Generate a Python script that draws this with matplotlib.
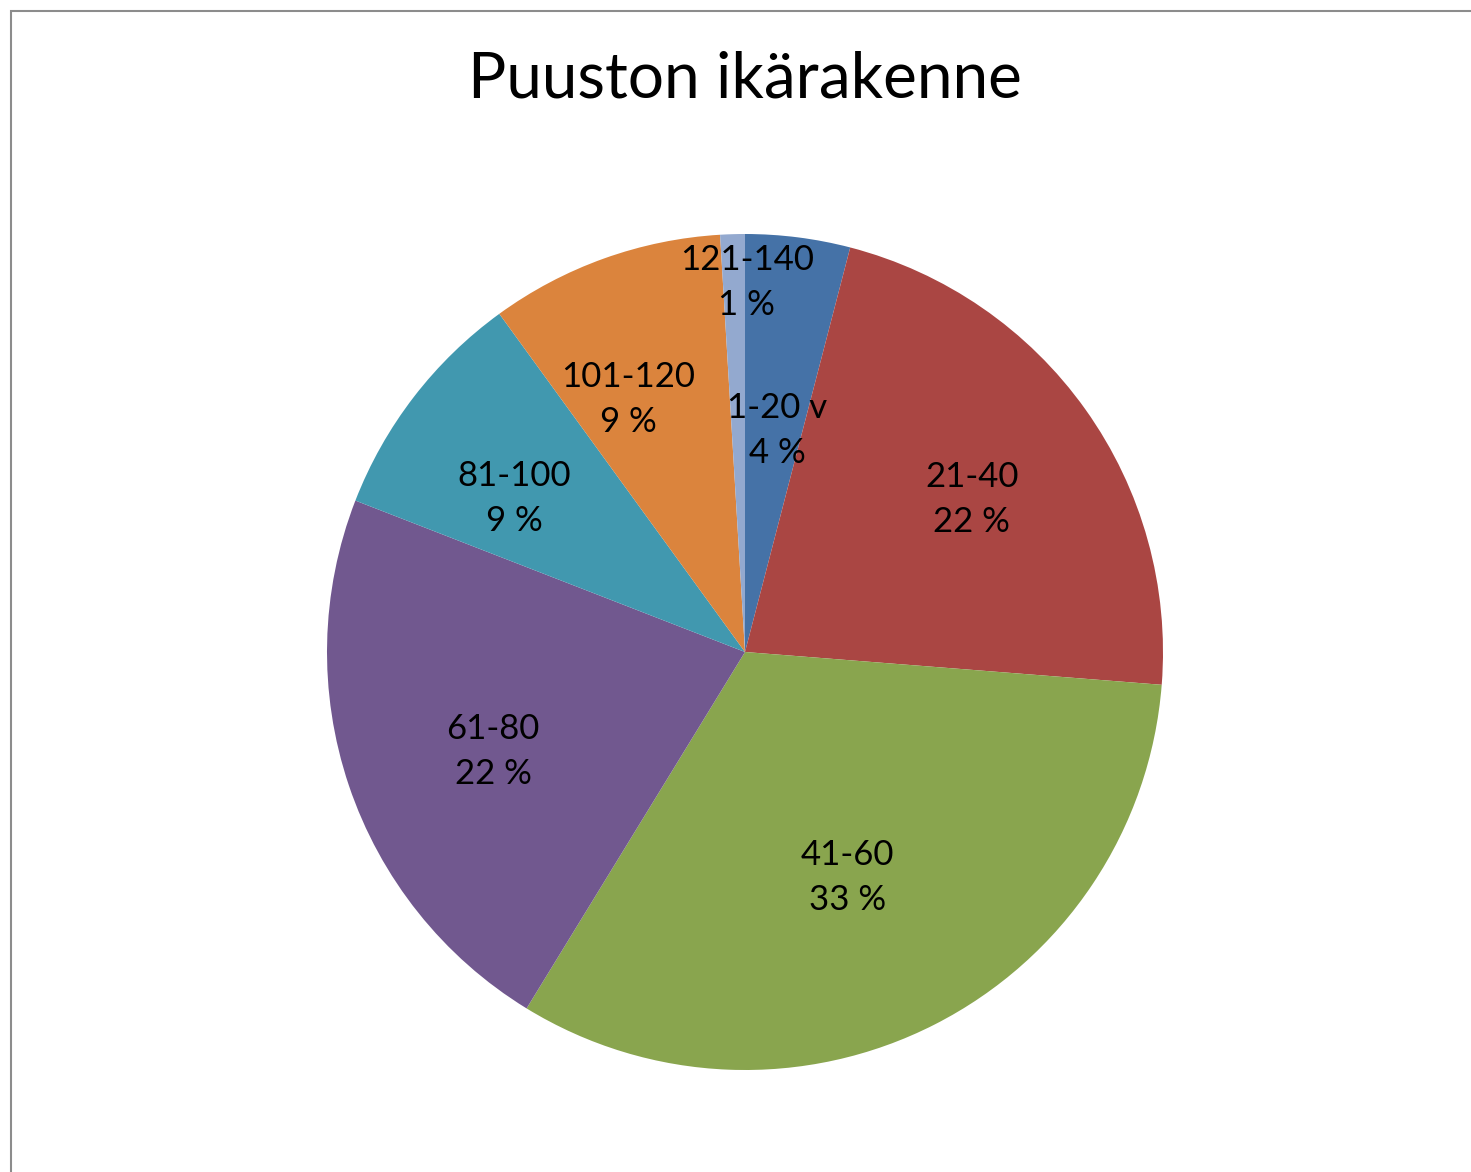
import matplotlib
matplotlib.use("Agg")
import matplotlib.pyplot as plt
from matplotlib.patches import Rectangle
import numpy as np

# age classes and shares (%)
categories = ["1-20 v", "21-40", "41-60", "61-80", "81-100", "101-120", "121-140"]
shares = [4.05, 22.2, 32.5, 22.15, 9.1, 9.05, 0.95]
colors = ["#4572A7", "#AA4643", "#89A54E", "#71588F", "#4198AF", "#DB843D", "#93A9CF"]

# label placement: distance from centre (fraction of radius) and clockwise nudge (deg)
label_radius = [0.536, 0.653, 0.593, 0.648, 0.663, 0.665, 0.883]
label_nudge = [0.9, 1.6, 2.5, -2.9, -4.1, -5.2, 2.0]

W, H = 1471, 1172
fig = plt.figure(figsize=(W / 100, H / 100), dpi=100)
fig.patch.set_facecolor("white")

# chart area border (gray, runs off the right/bottom edge)
fig.add_artist(Rectangle((11 / W, -0.01), 1.0, 1 - 11 / H + 0.01,
                         transform=fig.transFigure, fill=False,
                         edgecolor="#8c8c8c", linewidth=1.5))

fig.text(745 / W, 1 - 80 / H, "Puuston ikärakenne", ha="center", va="center",
         fontsize=46, family="Lato")

cx, cy, r = 745, 652, 418
ax = fig.add_axes([(cx - r) / W, (H - cy - r) / H, 2 * r / W, 2 * r / H])
wedges, _ = ax.pie(shares, colors=colors, startangle=90, counterclock=False,
                   radius=1.0, wedgeprops=dict(linewidth=0))
ax.set_xlim(-1, 1)
ax.set_ylim(-1, 1)
ax.set_aspect("equal")
ax.axis("off")

for w, cat, val, lr, nd in zip(wedges, categories, shares, label_radius, label_nudge):
    ang = np.deg2rad((w.theta1 + w.theta2) / 2 - nd)
    x, y = lr * np.cos(ang), lr * np.sin(ang)
    pct = int(val + 0.5)
    ax.text(x, y, f"{cat}\n{pct} %", ha="center", va="center",
            fontsize=25, family="Lato", linespacing=1.5)

fig.savefig("out.png", dpi=100)
